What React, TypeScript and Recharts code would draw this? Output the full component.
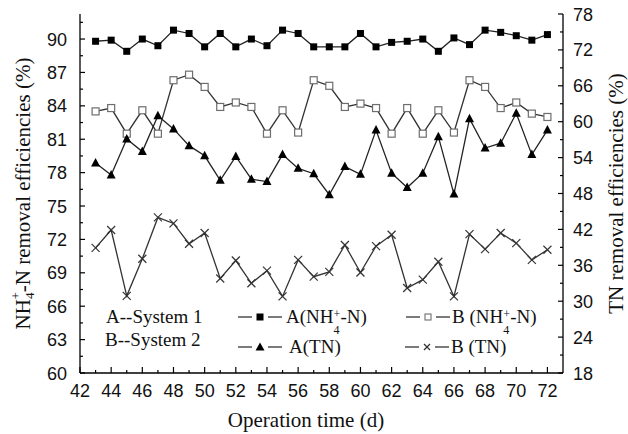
import React from "react";
import { LineChart, Line, XAxis, YAxis, Label } from "recharts";

const days = [43, 44, 45, 46, 47, 48, 49, 50, 51, 52, 53, 54, 55, 56, 57, 58, 59, 60, 61, 62, 63, 64, 65, 66, 67, 68, 69, 70, 71, 72];
const nh4A = [89.8, 89.9, 88.9, 90.0, 89.4, 90.8, 90.5, 89.3, 90.5, 89.3, 90.0, 89.4, 90.8, 90.5, 89.3, 89.3, 89.3, 90.5, 89.3, 89.7, 89.8, 90.0, 88.9, 90.1, 89.5, 90.8, 90.6, 90.3, 89.9, 90.4];
const nh4B = [83.5, 83.8, 81.5, 83.6, 81.5, 86.3, 86.8, 85.7, 83.9, 84.3, 83.9, 81.5, 83.6, 81.6, 86.3, 85.8, 83.9, 84.2, 83.8, 81.5, 83.8, 81.5, 83.6, 81.6, 86.3, 85.7, 83.8, 84.3, 83.3, 83.0];
const tnA = [53.1, 51.1, 57.1, 55.0, 61.0, 58.8, 56.0, 54.3, 50.2, 54.2, 50.4, 50.0, 54.5, 52.2, 51.3, 47.8, 52.5, 51.2, 58.6, 51.4, 49.0, 51.4, 57.5, 47.9, 60.5, 55.6, 56.4, 61.4, 54.5, 58.6];
const tnB = [38.9, 41.9, 30.9, 37.1, 44.0, 43.0, 39.6, 41.4, 33.8, 36.8, 33.0, 35.1, 30.8, 36.9, 34.1, 34.9, 39.4, 34.8, 39.2, 41.1, 32.2, 33.6, 36.6, 30.8, 41.2, 38.7, 41.4, 39.7, 36.9, 38.6];

const xTicks = [42, 43, 44, 45, 46, 47, 48, 49, 50, 51, 52, 53, 54, 55, 56, 57, 58, 59, 60, 61, 62, 63, 64, 65, 66, 67, 68, 69, 70, 71, 72];
const topTicks = [42, 44, 46, 48, 50, 52, 54, 56, 58, 60, 62, 64, 66, 68, 70, 72];
const leftTicks = [60, 61.5, 63, 64.5, 66, 67.5, 69, 70.5, 72, 73.5, 75, 76.5, 78, 79.5, 81, 82.5, 84, 85.5, 87, 88.5, 90, 91.5];
const rightTicks = [18, 21, 24, 27, 30, 33, 36, 39, 42, 45, 48, 51, 54, 57, 60, 63, 66, 69, 72, 75, 78];

const systemNotes = ["A--System 1", "B--System 2"];

const rows = days.map((d, i) => ({ day: d, nh4A: nh4A[i], nh4B: nh4B[i], tnA: tnA[i], tnB: tnB[i] }));

const SANS = "'Liberation Sans', Arial, sans-serif";
const SERIF = "'Liberation Serif', 'Times New Roman', serif";
const INK = "#111";

function BottomTick({ x, y, payload }: any) {
  const major = payload.value % 2 === 0;
  return (
    <g>
      <line x1={x} x2={x} y1={y} y2={y - (major ? 6 : 3)} stroke="#000" strokeWidth={1.2} />
      {major && (
        <text x={x} y={y + 24} textAnchor="middle" fontSize={18} fontFamily={SANS} fill={INK}>{payload.value}</text>
      )}
    </g>
  );
}

function TopTick({ x, y }: any) {
  return <line x1={x} x2={x} y1={y} y2={y + 5} stroke="#000" strokeWidth={1.2} />;
}

function LeftTick({ x, y, payload }: any) {
  const major = Math.abs(payload.value % 3) < 0.01;
  return (
    <g>
      <line x1={x} x2={x + (major ? 5 : 3)} y1={y} y2={y} stroke="#000" strokeWidth={1.2} />
      {major && (
        <text x={x - 13} y={y + 6.5} textAnchor="end" fontSize={18} fontFamily={SANS} fill={INK}>{payload.value}</text>
      )}
    </g>
  );
}

function RightTick({ x, y, payload }: any) {
  const major = payload.value % 6 === 0;
  return (
    <g>
      <line x1={x} x2={x - (major ? 5 : 3)} y1={y} y2={y} stroke="#000" strokeWidth={1.2} />
      {major && (
        <text x={x + 10} y={y + 6.5} textAnchor="start" fontSize={18} fontFamily={SANS} fill={INK}>{payload.value}</text>
      )}
    </g>
  );
}

function LeftTitle({ viewBox }: any) {
  const cx = viewBox.x + 30;
  const cy = viewBox.y + viewBox.height / 2;
  return (
    <text x={cx} y={cy} transform={`rotate(-90, ${cx}, ${cy})`} textAnchor="middle" fontSize={21} fontFamily={SERIF} fill={INK}>
      NH<tspan fontSize={13} dy={4}>4</tspan>
      <tspan fontSize={13} dx={-7} dy={-14}>+</tspan>
      <tspan dy={10}>-N removal efficiencies (%)</tspan>
    </text>
  );
}

function RightTitle({ viewBox }: any) {
  const cx = viewBox.x + 60;
  const cy = viewBox.y + viewBox.height / 2;
  return (
    <text x={cx} y={cy} transform={`rotate(-90, ${cx}, ${cy})`} textAnchor="middle" fontSize={21} fontFamily={SERIF} fill={INK}>
      TN removal efficiencies (%)
    </text>
  );
}

function BottomTitle({ viewBox }: any) {
  return (
    <text x={306} y={viewBox.y + 54} textAnchor="middle" fontSize={21} fontFamily={SERIF} fill={INK}>
      Operation time (d)
    </text>
  );
}

const filledSquare = (p: any) =>
  p.cx == null ? null : <rect key={p.index} x={p.cx - 3.5} y={p.cy - 3.5} width={7} height={7} fill="#000" />;
const openSquare = (p: any) =>
  p.cx == null ? null : <rect key={p.index} x={p.cx - 3.5} y={p.cy - 3.5} width={7} height={7} fill="#fff" stroke="#6e6e6e" strokeWidth={1.2} />;
const triangle = (p: any) =>
  p.cx == null ? null : (
    <polygon key={p.index} points={`${p.cx},${p.cy - 5} ${p.cx - 4.5},${p.cy + 3.5} ${p.cx + 4.5},${p.cy + 3.5}`} fill="#000" />
  );
const cross = (p: any) =>
  p.cx == null ? null : (
    <g key={p.index}>
      <line x1={p.cx - 4} y1={p.cy - 4} x2={p.cx + 4} y2={p.cy + 4} stroke="#333" strokeWidth={1.2} />
      <line x1={p.cx - 4} y1={p.cy + 4} x2={p.cx + 4} y2={p.cy - 4} stroke="#333" strokeWidth={1.2} />
    </g>
  );

function Marker({ kind }: { kind: string }) {
  return (
    <svg width={44} height={12} style={{ display: "block" }}>
      <line x1={0} x2={14} y1={6} y2={6} stroke="#333" strokeWidth={1.3} />
      <line x1={30} x2={44} y1={6} y2={6} stroke="#333" strokeWidth={1.3} />
      {kind === "fsq" && <rect x={18.5} y={2.5} width={7} height={7} fill="#000" />}
      {kind === "osq" && <rect x={19} y={3} width={6} height={6} fill="#fff" stroke="#6e6e6e" strokeWidth={1.1} />}
      {kind === "tri" && <polygon points="22,1.5 17.5,9.5 26.5,9.5" fill="#000" />}
      {kind === "x" && (
        <g stroke="#333" strokeWidth={1.2}>
          <line x1={19} y1={3} x2={25} y2={9} />
          <line x1={19} y1={9} x2={25} y2={3} />
        </g>
      )}
    </svg>
  );
}

function NH4() {
  return (
    <>
      NH
      <span style={{ display: "inline-block", position: "relative", width: 7, height: 0 }}>
        <span style={{ position: "absolute", left: 0, top: -19, fontSize: 12 }}>+</span>
        <span style={{ position: "absolute", left: 0, top: -3, fontSize: 12 }}>4</span>
      </span>
      -N
    </>
  );
}

const legendText: React.CSSProperties = {
  position: "absolute",
  fontFamily: SERIF,
  fontSize: 19,
  color: INK,
  lineHeight: "20px",
  whiteSpace: "nowrap",
  transform: "translateY(-50%)",
};

function LegendItem({ left, top, kind, gap, children }: any) {
  return (
    <div style={{ ...legendText, left, top, display: "flex", alignItems: "center" }}>
      <Marker kind={kind} />
      <span style={{ marginLeft: gap }}>{children}</span>
    </div>
  );
}

export default function App() {
  return (
    <div style={{ position: "absolute", left: 0, top: 0, width: 628, height: 434, background: "#fff" }}>
      <LineChart width={628} height={434} data={rows} margin={{ top: 14, right: 0, bottom: 0, left: 0 }}>
        <XAxis
          dataKey="day"
          type="number"
          domain={[42, 73]}
          ticks={xTicks}
          interval={0}
          height={61}
          tickSize={0}
          tickMargin={0}
          tick={BottomTick}
          axisLine={{ stroke: "#000", strokeWidth: 1.3 }}
        >
          <Label content={BottomTitle} />
        </XAxis>
        <XAxis
          xAxisId="top"
          orientation="top"
          type="number"
          domain={[42, 73]}
          ticks={topTicks}
          interval={0}
          height={0}
          tickSize={0}
          tickMargin={0}
          tick={TopTick}
          axisLine={{ stroke: "#000", strokeWidth: 1.3 }}
        />
        <YAxis
          yAxisId="left"
          type="number"
          domain={[60, 92.25]}
          ticks={leftTicks}
          interval={0}
          width={80}
          tickSize={0}
          tickMargin={0}
          tick={LeftTick}
          axisLine={{ stroke: "#000", strokeWidth: 1.3 }}
        >
          <Label content={LeftTitle} />
        </YAxis>
        <YAxis
          yAxisId="right"
          orientation="right"
          type="number"
          domain={[18, 78]}
          ticks={rightTicks}
          interval={0}
          width={65}
          tickSize={0}
          tickMargin={0}
          tick={RightTick}
          axisLine={{ stroke: "#000", strokeWidth: 1.3 }}
        >
          <Label content={RightTitle} />
        </YAxis>
        <Line yAxisId="left" dataKey="nh4A" stroke="#222" strokeWidth={1.3} dot={filledSquare} isAnimationActive={false} />
        <Line yAxisId="left" dataKey="nh4B" stroke="#333" strokeWidth={1.3} dot={openSquare} isAnimationActive={false} />
        <Line yAxisId="right" dataKey="tnA" stroke="#222" strokeWidth={1.3} dot={triangle} isAnimationActive={false} />
        <Line yAxisId="right" dataKey="tnB" stroke="#333" strokeWidth={1.3} dot={cross} isAnimationActive={false} />
      </LineChart>

      <div style={{ ...legendText, left: 106, top: 317 }}>{systemNotes[0]}</div>
      <div style={{ ...legendText, left: 105, top: 340 }}>{systemNotes[1]}</div>

      <LegendItem left={238} top={317} kind="fsq" gap={4}>A(<NH4 />)</LegendItem>
      <LegendItem left={406} top={317} kind="osq" gap={2}>B (<NH4 />)</LegendItem>
      <LegendItem left={238} top={347} kind="tri" gap={7}>A(TN)</LegendItem>
      <LegendItem left={405} top={347} kind="x" gap={2}>B (TN)</LegendItem>
    </div>
  );
}
